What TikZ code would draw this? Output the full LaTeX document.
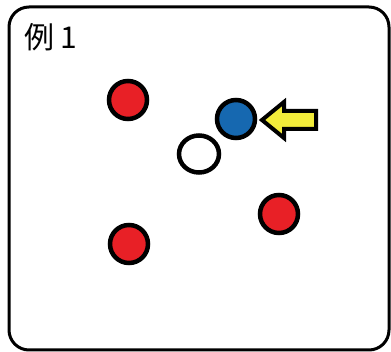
\documentclass[tikz,border=0pt]{standalone}
\usepackage{fontspec}
\newfontfamily\cjk{Noto Sans CJK JP}
\usetikzlibrary{shapes.geometric}
\definecolor{dotred}{RGB}{232,32,38}
\definecolor{dotblue}{RGB}{22,104,176}
\definecolor{arrowyellow}{RGB}{242,236,58}
\tikzset{
  frame/.style={draw=black,line width=3pt,rounded corners=20pt},
  dot/.style={circle,draw=black,line width=4.5pt,minimum size=38pt,inner sep=0pt},
  reddot/.style={dot,fill=dotred},
  bluedot/.style={dot,fill=dotblue},
  emptydot/.style={ellipse,draw=black,line width=4.5pt,minimum width=40pt,minimum height=37pt,inner sep=0pt,fill=white},
  pointer/.style={draw=black,line width=4pt,line join=miter,fill=arrowyellow},
}
\begin{document}
\begin{tikzpicture}[x=1pt,y=-1pt]
  \useasboundingbox (0,0) rectangle (391,352);
  \draw[frame] (9,7) rectangle (389,350);
  \node[anchor=west,inner sep=0pt] (title) at (24,37) {\cjk\fontsize{30pt}{32pt}\selectfont 例 1};
  % dots
  \node[reddot] (r1) at (128,100) {};
  \node[reddot] (r2) at (279,214) {};
  \node[reddot] (r3) at (129,244) {};
  \node[bluedot] (b) at (236,119) {};
  \node[emptydot] (w) at (199,154) {};
  % arrow pointing at the blue dot
  \coordinate (tip) at (262,120);
  \draw[pointer] (tip) -- ++(22,-18) -- ++(0,9) -- ++(32,0) -- ++(0,18)
    -- ++(-32,0) -- ++(0,9) -- cycle;
\end{tikzpicture}
\end{document}
